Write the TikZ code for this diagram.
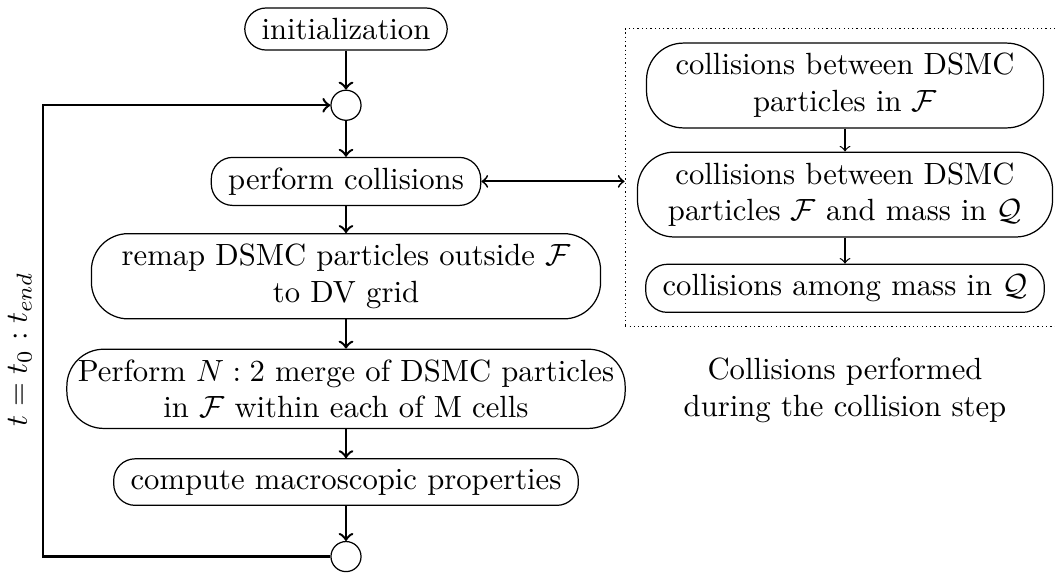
\documentclass[tikz,border=0pt]{standalone}
\usepackage{amsmath}
\usepackage{amsfonts}
\usetikzlibrary{positioning}
\usetikzlibrary{fit}
\tikzset{step node/.style={shape=rectangle,
    draw, align=center,
    rounded corners=7pt, inner xsep=5.5pt},
  long node/.style={step node, rounded corners=12pt},
  loop node/.style={shape=circle, draw,
    minimum size=9.8pt, inner sep=0pt},
  flow/.style={->, thick}}

\begin{document}
\begin{tikzpicture}[x=0.326pt, y=-0.326pt]
    \useasboundingbox (0,0) rectangle (1055,572);

    \node[step node] (init) at (346,29) {initialization};
    \node[loop node] (top) [below = 12.7pt of init] {};
    \node[step node] (collide) [below = 11.7pt of top] {perform collisions};
    \node[long node, minimum width=166pt] (remap) [below = 8.8pt of collide]
        {remap DSMC particles outside $\mathcal{F}$\\ to DV grid};
    \node[long node, inner xsep=3.5pt, minimum width=182pt] (merge) [below = 9.5pt of remap]
        {Perform $N:2$ merge of DSMC particles\\ in $\mathcal{F}$ within each of M cells};
    \node[step node] (macro) [below = 9.5pt of merge] {compute macroscopic properties};
    \node[loop node] (bottom) [below = 11.4pt of macro] {};
    \coordinate (left) at (43,0);

%   collision step
    \node[long node, minimum width=129.4pt] (c1) at (845,85.5)
        {collisions between DSMC\\ particles in $\mathcal{F}$};
    \node[long node, minimum width=135.3pt] (c2) [below = 7.5pt of c1]
        {collisions between DSMC\\ particles $\mathcal{F}$ and mass in $\mathcal{Q}$};
    \node[step node] (c3) [below = 8.5pt of c2] {collisions among mass in $\mathcal{Q}$};
    \node[draw, densely dotted, fit=(c1)(c2)(c3), inner xsep=3.8pt, inner ysep=4.5pt] (panel) {};
    \node[align=center] (caption) [below = 6.5pt of panel]
        {Collisions performed\\ during the collision step};

    \path[flow]
    (init) edge (top)
    (top) edge (collide)
    (collide) edge (remap)
    (remap) edge (merge)
    (merge) edge (macro)
    (macro) edge (bottom)
    ;
    \draw[flow] (bottom.west) -- (bottom.west -| left)
        |- node[pos=0.23, above, rotate=90] {$t = t_0 : t_{end}$} (top.west);
    \draw[<->, semithick] (collide.east) -- (collide.east -| panel.west);

    \path[->]
    (c1) edge (c2)
    (c2) edge (c3)
    ;
\end{tikzpicture}
\end{document}
